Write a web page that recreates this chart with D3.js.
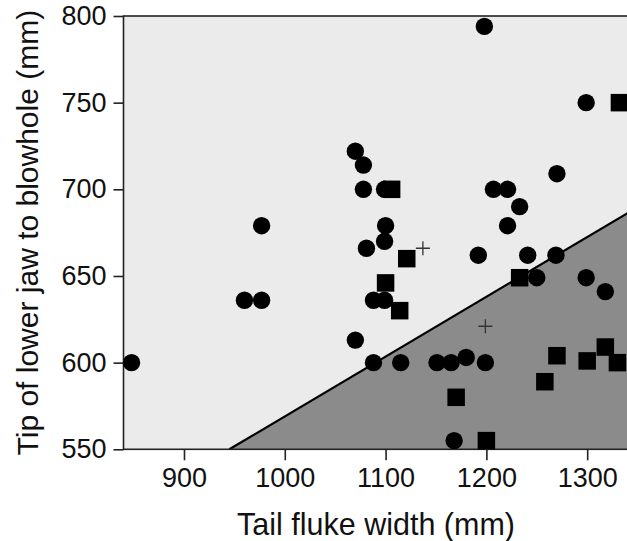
<!DOCTYPE html>
<html>
<head>
<meta charset="utf-8">
<script src="https://cdn.jsdelivr.net/npm/d3@7"></script>
<style>
  html, body { margin: 0; padding: 0; background: #ffffff; }
  svg { display: block; }
  text { font-family: "Liberation Sans", Arial, Helvetica, sans-serif; fill: #111; }
</style>
</head>
<body>
<svg id="chart" width="627" height="541"></svg>
<script>
// ---- Data ----
const circleX = [848, 960, 977, 977, 1070, 1078, 1078, 1099, 1100, 1099, 1081, 1088, 1099, 1070, 1088, 1115, 1151, 1165, 1180, 1199, 1168, 1198, 1192, 1207, 1221, 1233, 1221, 1241, 1269, 1270, 1250, 1299, 1318, 1299];
const circleY = [600, 636, 636, 679, 722, 714, 700, 700, 679, 670, 666, 636, 636, 613, 600, 600, 600, 600, 603, 600, 555, 794, 662, 700, 700, 690, 679, 662, 662, 709, 649, 649, 641, 750];
const squareX = [1106, 1121, 1100, 1114, 1170, 1200, 1233, 1270, 1258, 1300, 1318, 1330, 1332];
const squareY = [700, 660, 646, 630, 580, 555, 649, 604, 589, 601, 609, 600, 750];
const plusX = [1137, 1199];
const plusY = [666, 621];
const boundaryX = [945, 1345];
const boundaryY = [550, 688];
const xTicks = [900, 1000, 1100, 1200, 1300];
const yTicks = [550, 600, 650, 700, 750, 800];
const xDomain = [840, 1345];
const yDomain = [550, 800];
const xTitle = "Tail fluke width (mm)";
const yTitle = "Tip of lower jaw to blowhole (mm)";

// ---- Chart ----
const svg = d3.select("#chart");
const x = d3.scaleLinear().domain([840, 1340]).range([123.5, 627.5]);
const y = d3.scaleLinear().domain(yDomain).range([449.3, 16]);

const plot = svg.append("g");

// light background
plot.append("rect")
  .attr("x", x(xDomain[0])).attr("y", y(yDomain[1]))
  .attr("width", x(xDomain[1]) - x(xDomain[0]))
  .attr("height", y(yDomain[0]) - y(yDomain[1]))
  .attr("fill", "#ebebeb");

// dark region below the boundary line
const region = [[boundaryX[0], boundaryY[0]], [boundaryX[1], boundaryY[1]], [boundaryX[1], yDomain[0]]];
plot.append("path")
  .attr("d", d3.line().x(d => x(d[0])).y(d => y(d[1]))(region) + "Z")
  .attr("fill", "#8b8b8b");

plot.append("line")
  .attr("x1", x(boundaryX[0])).attr("y1", y(boundaryY[0]))
  .attr("x2", x(boundaryX[1])).attr("y2", y(boundaryY[1]))
  .attr("stroke", "#000").attr("stroke-width", 2.2);

// frame
plot.append("rect")
  .attr("x", x(xDomain[0])).attr("y", y(yDomain[1]))
  .attr("width", x(xDomain[1]) - x(xDomain[0]))
  .attr("height", y(yDomain[0]) - y(yDomain[1]))
  .attr("fill", "none").attr("stroke", "#222").attr("stroke-width", 1.6);

// circles
plot.selectAll("circle.pt").data(circleX.map((v, i) => [v, circleY[i]]))
  .enter().append("circle")
  .attr("class", "pt")
  .attr("cx", d => x(d[0])).attr("cy", d => y(d[1]))
  .attr("r", 8.7).attr("fill", "#000");

// squares
const s = 17.5;
plot.selectAll("rect.sq").data(squareX.map((v, i) => [v, squareY[i]]))
  .enter().append("rect")
  .attr("class", "sq")
  .attr("x", d => x(d[0]) - s / 2).attr("y", d => y(d[1]) - s / 2)
  .attr("width", s).attr("height", s).attr("fill", "#000");

// plus markers
const p = 7;
plot.selectAll("path.plus").data(plusX.map((v, i) => [v, plusY[i]]))
  .enter().append("path")
  .attr("class", "plus")
  .attr("d", d => {
    const cx = x(d[0]), cy = y(d[1]);
    return `M${cx - p},${cy}H${cx + p}M${cx},${cy - p}V${cy + p}`;
  })
  .attr("stroke", "#333").attr("stroke-width", 1.3).attr("fill", "none");

// axes
const yAxis = svg.append("g").attr("transform", `translate(${x(xDomain[0])},0)`)
  .call(d3.axisLeft(y).tickValues(yTicks).tickSize(10).tickPadding(7).tickFormat(d3.format("d")));
const xAxis = svg.append("g").attr("transform", `translate(0,${y(yDomain[0])})`)
  .call(d3.axisBottom(x).tickValues(xTicks).tickSize(11).tickPadding(8).tickFormat(d3.format("d")));
[yAxis, xAxis].forEach(a => {
  a.select(".domain").remove();
  a.selectAll(".tick line").attr("stroke", "#222").attr("stroke-width", 1.6);
  a.selectAll(".tick text").attr("font-size", 27).attr("fill", "#111")
    .style("font-family", '"Liberation Sans", Arial, sans-serif');
});

// titles
svg.append("text")
  .attr("x", 376).attr("y", 535)
  .attr("text-anchor", "middle").attr("font-size", 30.5)
  .text(xTitle);
svg.append("text")
  .attr("transform", `translate(38,${(y(yDomain[0]) + y(yDomain[1])) / 2}) rotate(-90)`)
  .attr("text-anchor", "middle").attr("font-size", 30)
  .text(yTitle);
</script>
</body>
</html>
